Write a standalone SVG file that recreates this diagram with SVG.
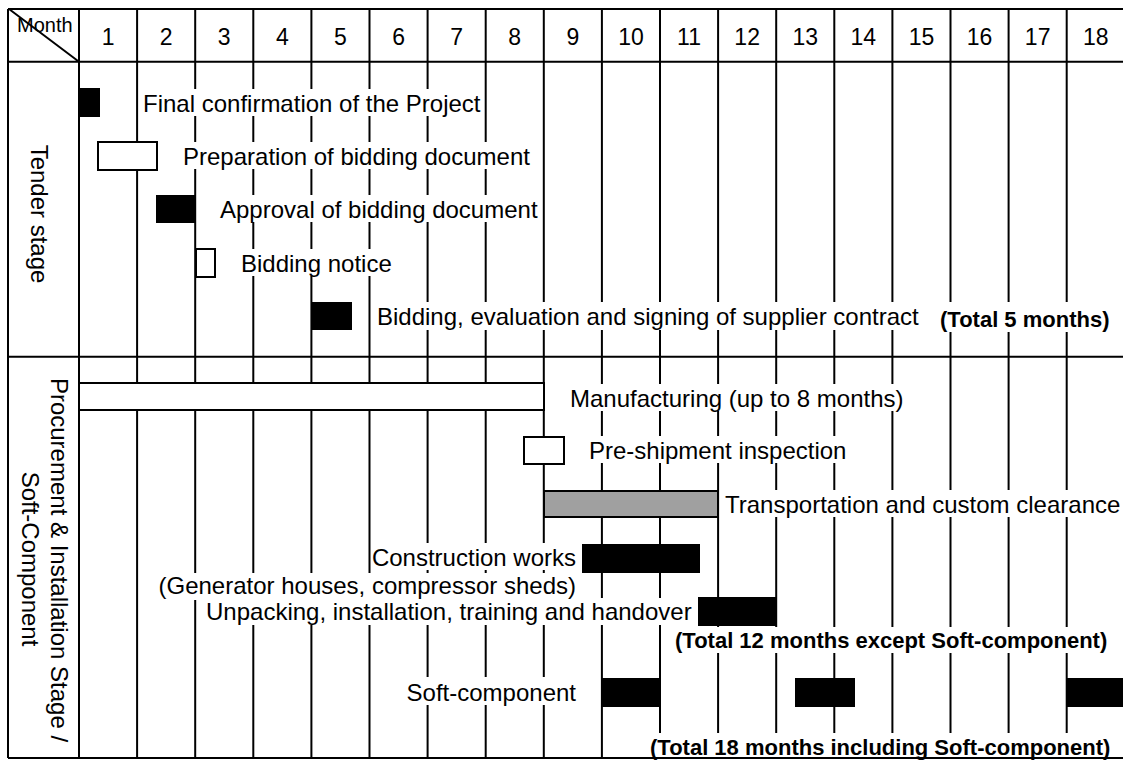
<svg xmlns="http://www.w3.org/2000/svg" width="1123" height="761" viewBox="0 0 1123 761">
<style>
.g{stroke:#000;stroke-width:2;fill:none}
.t{font-family:"Liberation Sans",Arial,sans-serif;font-size:24px;fill:#000}
.b{font-family:"Liberation Sans",Arial,sans-serif;font-size:22px;font-weight:bold;fill:#000}
.n{font-family:"Liberation Sans",Arial,sans-serif;font-size:23px;fill:#000;text-anchor:middle}
.bg{fill:#fff}
.blk{fill:#000}
.wht{fill:#fff;stroke:#000;stroke-width:2}
.gry{fill:#a0a0a0;stroke:#000;stroke-width:2}
</style>
<rect width="1123" height="761" fill="#fff"/>
<g id="grid-verticals" class="g">
<path d="M79 9V758M137.1 9V758M195.2 9V758M253.3 9V758M311.4 9V758M369.5 9V758M427.6 9V758M485.7 9V758M543.8 9V758M601.9 9V758M660 9V758M718.1 9V758M776.2 9V758M834.3 9V758M892.4 9V758M950.5 9V758M1008.6 9V758M1066.7 9V758"/>
</g>
<g id="label-backgrounds" class="bg">
<rect x="141" y="89" width="342" height="27"/>
<rect x="181" y="142" width="346" height="27"/>
<rect x="218" y="195" width="320" height="27"/>
<rect x="239" y="249" width="150" height="27"/>
<rect x="375" y="302" width="541" height="28"/>
<rect x="938" y="302" width="177" height="30"/>
<rect x="568" y="384" width="339" height="27"/>
<rect x="587" y="436" width="259" height="27"/>
<rect x="723" y="490" width="394" height="27"/>
<rect x="372" y="543" width="207" height="27"/>
<rect x="164" y="573" width="415" height="27"/>
<rect x="204" y="598" width="484" height="27"/>
<rect x="671" y="627" width="442" height="26"/>
<rect x="408" y="677" width="171" height="28"/>
<rect x="646" y="733" width="467" height="24"/>
</g>
<g id="grid-horizontals" class="g">
<path d="M8 9H1123M8 61.7H1123M8 356.7H1123M8 758H1123M8 9V758M9 9L79 61.7"/>
</g>
<g id="header">
<text x="17" y="32" class="t" style="font-size:20px">Month</text>
<text class="n" y="45">
<tspan x="108.05">1</tspan><tspan x="166.15">2</tspan><tspan x="224.25">3</tspan><tspan x="282.35">4</tspan><tspan x="340.45">5</tspan><tspan x="398.55">6</tspan><tspan x="456.65">7</tspan><tspan x="514.75">8</tspan><tspan x="572.85">9</tspan><tspan x="630.95">10</tspan><tspan x="689.05">11</tspan><tspan x="747.15">12</tspan><tspan x="805.25">13</tspan><tspan x="863.35">14</tspan><tspan x="921.45">15</tspan><tspan x="979.55">16</tspan><tspan x="1037.65">17</tspan><tspan x="1095.75">18</tspan>
</text>
</g>
<g id="stage-tender">
<text class="t" text-anchor="middle" transform="translate(31 214) rotate(90)">Tender stage</text>
</g>
<g id="stage-procurement">
<text class="t" text-anchor="middle" transform="translate(51 560) rotate(90)">Procurement &amp; Installation Stage /</text>
<text class="t" text-anchor="middle" transform="translate(22 559) rotate(90)">Soft-Component</text>
</g>
<g id="task-final-confirmation">
<rect class="blk" x="80" y="88" width="20" height="29"/>
<text class="t" x="143" y="112">Final confirmation of the Project</text>
</g>
<g id="task-preparation">
<rect class="wht" x="98" y="142" width="59" height="28"/>
<text class="t" x="183" y="165">Preparation of bidding document</text>
</g>
<g id="task-approval">
<rect class="blk" x="156" y="195" width="40" height="28"/>
<text class="t" x="220" y="218">Approval of bidding document</text>
</g>
<g id="task-bidding-notice">
<rect class="wht" x="196" y="249" width="19" height="28"/>
<text class="t" x="241" y="272">Bidding notice</text>
</g>
<g id="task-bidding-contract">
<rect class="blk" x="312" y="302" width="40" height="28"/>
<text class="t" x="377" y="325">Bidding, evaluation and signing of supplier contract</text>
<text class="b" x="940" y="327">(Total 5 months)</text>
</g>
<g id="task-manufacturing">
<rect class="wht" x="79" y="383" width="465" height="27"/>
<text class="t" x="570" y="407">Manufacturing (up to 8 months)</text>
</g>
<g id="task-pre-shipment">
<rect class="wht" x="524" y="437" width="40" height="27"/>
<text class="t" x="589" y="459">Pre-shipment inspection</text>
</g>
<g id="task-transportation">
<rect class="gry" x="544" y="491" width="174" height="26"/>
<text class="t" x="725" y="513">Transportation and custom clearance</text>
</g>
<g id="task-construction">
<rect class="blk" x="582" y="544" width="118" height="29"/>
<text class="t" x="576" y="566" text-anchor="end">Construction works</text>
<text class="t" x="576" y="594" text-anchor="end">(Generator houses, compressor sheds)</text>
</g>
<g id="task-unpacking">
<rect class="blk" x="698" y="597" width="79" height="29"/>
<text class="t" x="206" y="620">Unpacking, installation, training and handover</text>
<text class="b" x="675" y="648">(Total 12 months except Soft-component)</text>
</g>
<g id="task-soft-component">
<rect class="blk" x="602" y="678" width="58" height="29"/>
<rect class="blk" x="795" y="678" width="60" height="29"/>
<rect class="blk" x="1067" y="678" width="56" height="29"/>
<text class="t" x="576" y="701" text-anchor="end">Soft-component</text>
<text class="b" x="650" y="755">(Total 18 months including Soft-component)</text>
</g>
</svg>
